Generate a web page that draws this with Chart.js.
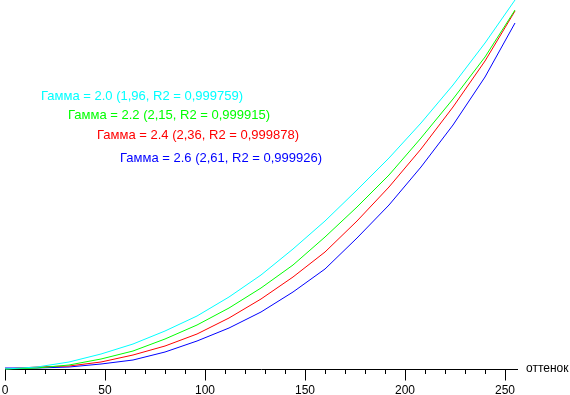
<!DOCTYPE html>
<html>
<head>
<meta charset="utf-8">
<script src="https://cdn.jsdelivr.net/npm/chart.js@4.4.1/dist/chart.umd.min.js"></script>
<style>
  html, body { margin: 0; padding: 0; background: #fff; }
  #wrap { width: 570px; height: 395px; }
</style>
</head>
<body>
<div id="wrap"><canvas id="gammaChart" width="570" height="395"></canvas></div>
<script>
const shades = [0, 16, 32, 48, 64, 80, 96, 112, 128, 144, 160, 176, 192, 208, 224, 240, 255];

const cyanValues  = [0, 2, 7, 15, 25, 38, 53, 72, 94, 120, 148, 179, 211, 246, 284, 326, 369];
const greenValues = [0, 1, 4, 10, 18, 30, 44, 61, 81, 104, 132, 162, 194, 231, 270, 312, 359];
const redValues   = [0, 2, 3, 7, 14, 23, 35, 51, 70, 92, 117, 148, 182, 220, 262, 308, 358];
const blueValues  = [1, 1, 2, 5, 9, 17, 28, 41, 57, 77, 100, 131, 164, 202, 244, 292, 346];

const seriesLabels = [
    "Гамма = 2.0 (1,96, R2 = 0,999759)",
    "Гамма = 2.2 (2,15, R2 = 0,999915)",
    "Гамма = 2.4 (2,36, R2 = 0,999878)",
    "Гамма = 2.6 (2,61, R2 = 0,999926)"
];
const seriesColors = ["#00ffff", "#00ff00", "#ff0000", "#0000ff"];

const majorTicks = [0, 50, 100, 150, 200, 250];
const axisTitle = "оттенок";

const FONT = "Arial, 'Liberation Sans', sans-serif";

function toPoints(values) {
    return shades.map((s, i) => ({ x: s, y: values[i] }));
}

/*--------------------------------------------------------------------
Overlay: major tick extension, axis caption, curve captions
--------------------------------------------------------------------*/
const overlayPlugin = {
    id: "overlay",
    afterDraw(chart) {
        const ctx = chart.ctx;
        const xs = chart.scales.x;
        const area = chart.chartArea;
        const base = Math.round(area.bottom) + 0.5;

        ctx.save();
        ctx.strokeStyle = "#000";
        ctx.lineWidth = 1;
        majorTicks.forEach(v => {
            const px = Math.round(xs.getPixelForValue(v)) + 0.5;
            ctx.beginPath();
            ctx.moveTo(px, base);
            ctx.lineTo(px, base + 11);
            ctx.stroke();
        });

        ctx.fillStyle = "#000";
        ctx.font = "12px " + FONT;
        ctx.textBaseline = "alphabetic";
        ctx.textAlign = "left";
        ctx.fillText(axisTitle, area.right + 9, base + 2);

        // curve captions
        const spots = [[41, 96], [68, 115], [97, 135], [120, 158]];
        ctx.font = "13px " + FONT;
        ctx.textBaseline = "middle";
        seriesLabels.forEach((txt, i) => {
            ctx.fillStyle = seriesColors[i];
            ctx.fillText(txt, spots[i][0], spots[i][1]);
        });
        ctx.restore();
    }
};

const datasets = [cyanValues, greenValues, redValues, blueValues].map((vals, i) => ({
    label: seriesLabels[i],
    data: toPoints(vals),
    borderColor: seriesColors[i],
    borderWidth: 1,
    pointRadius: 0,
    tension: 0,
    fill: false,
    clip: false
}));

new Chart(document.getElementById("gammaChart"), {
    type: "line",
    data: { datasets },
    options: {
        responsive: false,
        animation: false,
        layout: { padding: { left: 5, right: 53, top: 0, bottom: 0 } },
        plugins: {
            legend: { display: false },
            tooltip: { enabled: false }
        },
        scales: {
            x: {
                type: "linear",
                min: 0,
                max: 256,
                afterFit: (scale) => {
                    scale.height = 26;
                    scale.paddingLeft = 0;
                    scale.paddingRight = 0;
                },
                grid: {
                    display: true,
                    drawOnChartArea: false,
                    drawTicks: true,
                    tickLength: 5,
                    color: "#000"
                },
                border: { display: true, color: "#000", width: 1 },
                ticks: {
                    stepSize: 10,
                    includeBounds: false,
                    autoSkip: false,
                    maxRotation: 0,
                    padding: 9,
                    color: "#000",
                    font: { family: FONT, size: 12 },
                    callback: (v) => (v % 50 === 0 ? String(v) : "")
                }
            },
            y: {
                display: false,
                min: 0,
                max: 369
            }
        }
    },
    plugins: [overlayPlugin]
});
</script>
</body>
</html>
